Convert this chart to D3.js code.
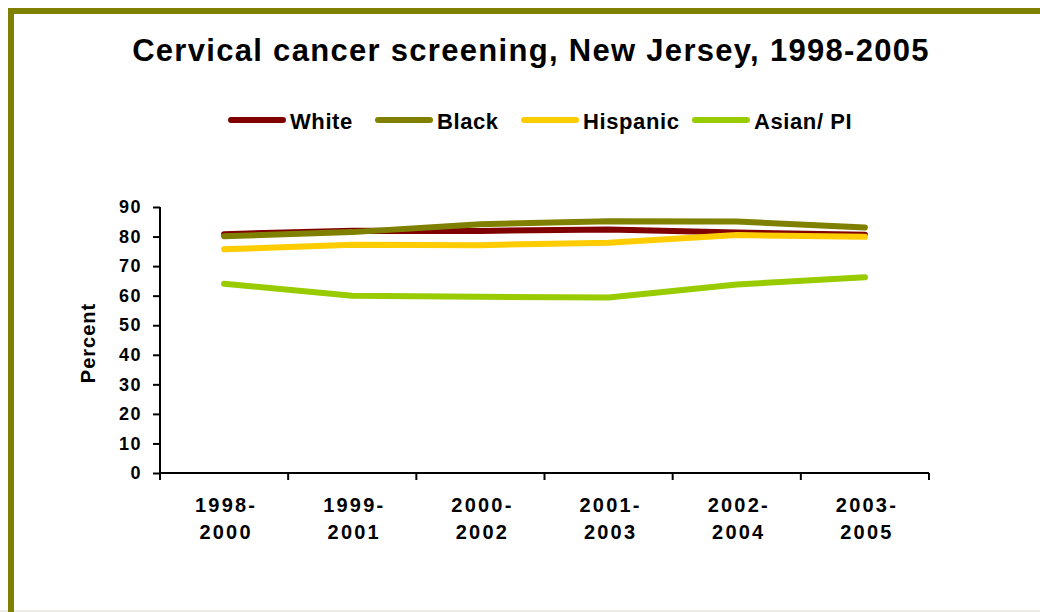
<!DOCTYPE html>
<html><head><meta charset="utf-8">
<script src="https://cdn.jsdelivr.net/npm/d3@7"></script>
<style>body{margin:0;background:#fff}svg{display:block}text{font-family:"Liberation Sans",Arial,sans-serif;font-weight:bold;fill:#000}</style>
</head><body><svg id="c" width="1040" height="612"></svg>
<script>
const categories = [["1998-","2000"],["1999-","2001"],["2000-","2002"],["2001-","2003"],["2002-","2004"],["2003-","2005"]];
const seriesNames = ["White","Black","Hispanic","Asian/ PI"];
const seriesColors = ["#800000","#808000","#FFCC00","#99CC00"];
const white = [80.8, 82.0, 81.9, 82.4, 81.4, 80.6];
const black = [80.1, 81.5, 84.2, 85.2, 85.1, 83.1];
const hispanic = [75.7, 77.2, 77.1, 77.9, 80.5, 79.9];
const asian = [64.0, 60.0, 59.6, 59.4, 63.8, 66.2];
const yTicks = [0,10,20,30,40,50,60,70,80,90];
const seriesValues = [white, black, hispanic, asian];

const svg = d3.select("#c");
// frame
svg.append("rect").attr("x",0).attr("y",610).attr("width",1040).attr("height",2).attr("fill","#ecece4");
svg.append("line").attr("x1",8).attr("x2",1040).attr("y1",11).attr("y2",11).attr("stroke","#808000").attr("stroke-width",6);
svg.append("line").attr("x1",11).attr("x2",11).attr("y1",8).attr("y2",612).attr("stroke","#808000").attr("stroke-width",6);

svg.append("text").attr("x",531).attr("y",61).attr("text-anchor","middle").attr("font-size",31).attr("letter-spacing",1.3).text("Cervical cancer screening, New Jersey, 1998-2005");

const x = d3.scaleBand().domain(d3.range(categories.length)).range([160,929]);
const y = d3.scaleLinear().domain([0,90]).range([473,207]);

// y axis
const ya = svg.append("g").attr("transform","translate(160,0)").call(d3.axisLeft(y).tickValues(yTicks).tickSize(7).tickPadding(11));
ya.select(".domain").attr("stroke","#000").attr("stroke-width",2).attr("d","M0,207V473");
ya.selectAll(".tick line").attr("stroke","#000").attr("stroke-width",2);
ya.selectAll(".tick text").attr("font-size",18).attr("font-family","Liberation Sans, Arial, sans-serif").attr("font-weight","bold").attr("fill","#000").attr("letter-spacing",1.5);

// x axis
const xa = svg.append("g").attr("transform","translate(0,473)");
xa.append("line").attr("x1",160).attr("x2",929).attr("stroke","#000").attr("stroke-width",2);
const bounds = d3.range(categories.length+1).map(i => i < categories.length ? x(i) : x(i-1)+x.bandwidth());
xa.selectAll(".xt").data(bounds).join("line").attr("x1",d=>d).attr("x2",d=>d).attr("y1",0).attr("y2",7).attr("stroke","#000").attr("stroke-width",2);
const xl = xa.selectAll(".xl").data(categories).join("text").attr("text-anchor","middle").attr("font-size",20).attr("letter-spacing",2.2)
  .attr("transform",(d,i)=>`translate(${x(i)+x.bandwidth()/2+2},0)`);
xl.append("tspan").attr("x",0).attr("y",39).text(d=>d[0]);
xl.append("tspan").attr("x",0).attr("y",66).text(d=>d[1]);

svg.append("text").attr("transform","translate(95,343) rotate(-90)").attr("text-anchor","middle").attr("font-size",20).attr("letter-spacing",1).text("Percent");

const line = d3.line().x((d,i)=>x(i)+x.bandwidth()/2).y(d=>y(d));
svg.append("g").selectAll("path").data(seriesValues).join("path")
  .attr("d",d=>line(d)).attr("fill","none").attr("stroke",(d,i)=>seriesColors[i]).attr("stroke-width",6).attr("stroke-linecap","round").attr("stroke-linejoin","round");

// legend
const legX = [231, 378, 524, 695];
const lg = svg.append("g").selectAll("g").data(seriesNames).join("g").attr("transform",(d,i)=>`translate(${legX[i]},120)`);
lg.append("line").attr("x1",0).attr("x2",52).attr("stroke",(d,i)=>seriesColors[i]).attr("stroke-width",6).attr("stroke-linecap","round");
lg.append("text").attr("x",59).attr("y",9).attr("font-size",22).attr("letter-spacing",0.6).text(d=>d);
</script></body></html>
